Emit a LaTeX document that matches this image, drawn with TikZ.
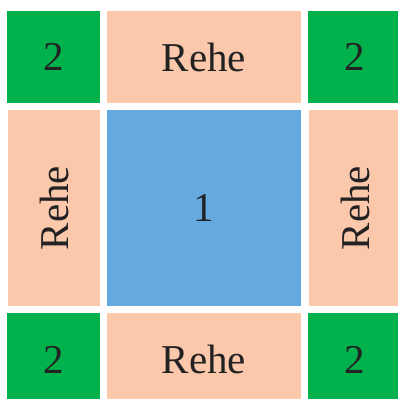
\documentclass[tikz,border=0pt]{standalone}
\usepackage{fontspec}
\setmainfont{Liberation Serif}
\definecolor{cgreen}{HTML}{00B14C}
\definecolor{cpeach}{HTML}{FCC8AC}
\definecolor{cblue}{HTML}{64AADE}
\definecolor{ctext}{HTML}{222222}
\begin{document}
\begin{tikzpicture}[x=1pt,y=-1pt,
  cell/.style={draw=none,minimum width=#1,inner sep=0pt,text=ctext,font=\fontsize{41}{41}\selectfont},
  gcell/.style={cell,fill=cgreen},
  pcell/.style={cell,fill=cpeach},
  bcell/.style={cell,fill=cblue}]
\useasboundingbox (0,0) rectangle (397,399);
% corner greens
\fill[cgreen] (7,11) rectangle (100,102.7);
\fill[cgreen] (308,11) rectangle (401,102.7);
\fill[cgreen] (7,313) rectangle (100,406);
\fill[cgreen] (308,313) rectangle (401,406);
% peach
\fill[cpeach] (107,11) rectangle (301,102.7);
\fill[cpeach] (107,313) rectangle (301,406);
\fill[cpeach] (8,110) rectangle (100,305.7);
\fill[cpeach] (309,110) rectangle (401,305.7);
% blue
\fill[cblue] (107,110) rectangle (301,305.7);
% labels
\tikzset{lbl/.style={text=ctext,inner sep=0pt,font=\fontsize{41}{41}\selectfont}}
\node[lbl] (g1) at (53.5,57) {2};
\node[lbl] (g2) at (354.5,57) {2};
\node[lbl] (g3) at (53.5,359.5) {2};
\node[lbl] (g4) at (354.5,359.5) {2};
\node[lbl] (rt) at (204,57) {Rehe};
\node[lbl] (rb) at (204,359.5) {Rehe};
\node[lbl,rotate=90] (rl) at (54,208) {Rehe};
\node[lbl,rotate=90] (rr) at (355,208) {Rehe};
\node[lbl] (c) at (204,208) {1};
\end{tikzpicture}
\end{document}
